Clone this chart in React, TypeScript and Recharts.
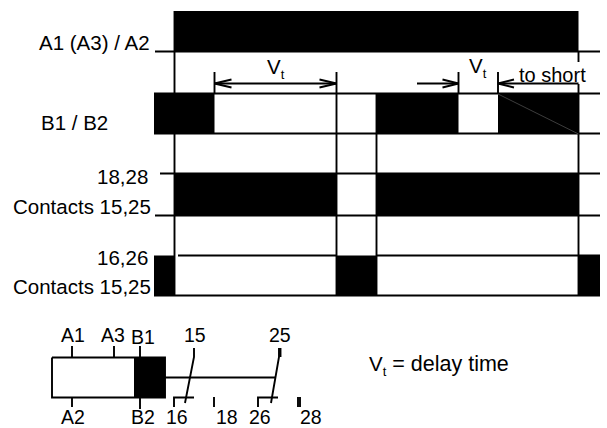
import { ComposedChart, Line, ReferenceArea, ReferenceDot, XAxis, YAxis } from "recharts";

const WIDTH = 607;
const HEIGHT = 428;
const FONT = "Liberation Sans, Arial, sans-serif";

// switching instants along the time axis
const t = { start: 174.5, vt1: 214.5, off1: 336.5, on2: 376.5, vt2: 458.5, vt3: 498, end: 578.5 };
const leftEnd = 154;
const rightEnd = 600;

// signal bands [top, bottom]
const supplyBand = [11, 51.5];
const controlBand = [93.5, 133.5];
const contact18Band = [173.5, 215.5];
const contact16Band = [255.5, 295.5];

// filled (high) periods [from, to, top, bottom]
const blocks = [
  [t.start, t.end, supplyBand[0], supplyBand[1]],
  [leftEnd, t.vt1, controlBand[0], controlBand[1]],
  [t.on2, t.vt2, controlBand[0], controlBand[1]],
  [t.vt3, t.end, controlBand[0], controlBand[1]],
  [t.start, t.off1, contact18Band[0], contact18Band[1]],
  [t.on2, t.end, contact18Band[0], contact18Band[1]],
  [leftEnd, t.start, contact16Band[0], contact16Band[1]],
  [t.off1, t.on2, contact16Band[0], contact16Band[1]],
  [t.end, rightEnd, contact16Band[0], contact16Band[1]],
  [134, 165, 357.5, 397.5],
];

// traces, each a list of [x, y]
const traces = [
  [[155, 51.5], [rightEnd, 51.5]],
  [[leftEnd, 93.5], [rightEnd, 93.5]],
  [[leftEnd, 133.5], [rightEnd, 133.5]],
  [[160, 173.5], [rightEnd, 173.5]],
  [[155, 215.5], [rightEnd, 215.5]],
  [[178, 255.5], [t.off1, 255.5]],
  [[t.on2, 255.5], [rightEnd, 255.5]],
  [[leftEnd, 295.5], [rightEnd, 295.5]],
  // time markers
  [[t.start, 11], [t.start, 295]],
  [[t.off1, 72], [t.off1, 295]],
  [[t.on2, 94], [t.on2, 295]],
  [[t.end, 52], [t.end, 62]],
  [[t.end, 84], [t.end, 295]],
  [[t.vt1, 72], [t.vt1, 94]],
  [[t.vt2, 72], [t.vt2, 94]],
  [[t.vt3, 72], [t.vt3, 94]],
  // delay time arrows
  [[t.vt1, 83.5], [t.off1, 83.5]],
  [[t.vt1 + 17, 79.5], [t.vt1, 83.5], [t.vt1 + 17, 87.5]],
  [[t.off1 - 17, 79.5], [t.off1, 83.5], [t.off1 - 17, 87.5]],
  [[417, 83.5], [t.vt2, 83.5]],
  [[t.vt2 - 16, 79.5], [t.vt2, 83.5], [t.vt2 - 16, 87.5]],
  [[t.vt3, 83.5], [t.end, 83.5]],
  [[t.vt3 + 16, 79.5], [t.vt3, 83.5], [t.vt3 + 16, 87.5]],
];

// wiring of the relay symbol
const symbolTraces = [
  [[52, 357.5], [165, 357.5], [165, 397.5], [52, 397.5], [52, 357.5]],
  [[72, 346], [72, 357.5]],
  [[114, 346], [114, 357.5]],
  [[140, 346], [140, 357.5]],
  [[72, 397.5], [72, 407]],
  [[140, 397.5], [140, 409]],
  [[165, 377.5], [276, 377.5]],
  [[194, 348], [194, 357], [185, 403]],
  [[279, 348], [279, 357], [271, 403]],
  [[280.5, 348], [280.5, 357]],
  [[174, 407], [174, 397.5], [194, 397.5]],
  [[214, 397], [214, 407]],
  [[258, 407], [258, 397.5], [278, 397.5]],
  [[298, 397], [298, 407]],
  [[300, 397], [300, 407]],
];

const shortLine = [[t.vt3, 94], [t.end, 134]];

// [text, x, baseline, font size, subscript, trailing text]
const labels = [
  ["A1 (A3) / A2", 39, 50, 20.5],
  ["B1 / B2", 41, 130, 20.5],
  ["18,28", 97, 184, 20.5],
  ["Contacts 15,25", 13, 214, 20.5],
  ["16,26", 97, 265, 20.5],
  ["Contacts 15,25", 13, 294, 20.5],
  ["V", 267, 74, 20.5, "t"],
  ["V", 469, 73, 20.5, "t"],
  ["to short", 519, 82, 20],
  ["V", 369, 371, 20.5, "t", " = delay time"],
  ["A1", 61, 342, 19.5],
  ["A3", 101, 342, 19.5],
  ["B1", 131, 344, 19.5],
  ["15", 184, 342, 19.5],
  ["25", 269, 342, 19.5],
  ["A2", 61, 424, 19.5],
  ["B2", 131, 424, 19.5],
  ["16", 166, 424, 19.5],
  ["18", 216, 424, 19.5],
  ["26", 249, 424, 19.5],
  ["28", 300, 424, 19.5],
];

const toPoints = (trace: number[][]) => trace.map(([x, y]) => ({ x, y }));

export default function App() {
  return (
    <div style={{ position: "absolute", left: 0, top: 0, width: WIDTH, height: HEIGHT, background: "#fff" }}>
      <ComposedChart width={WIDTH} height={HEIGHT} margin={{ top: 0, right: 0, bottom: 0, left: 0 }}>
        <XAxis type="number" dataKey="x" domain={[0, WIDTH]} hide allowDataOverflow />
        <YAxis type="number" dataKey="y" domain={[0, HEIGHT]} reversed hide allowDataOverflow />
        {blocks.map(([x1, x2, y1, y2], i) => (
          <ReferenceArea key={i} x1={x1} x2={x2} y1={y1} y2={y2} fill="#000" fillOpacity={1} stroke="none" ifOverflow="visible" />
        ))}
        {traces.concat(symbolTraces).map((trace, i) => (
          <Line
            key={i}
            data={toPoints(trace)}
            dataKey="y"
            type="linear"
            stroke="#000"
            strokeWidth={1.9}
            dot={false}
            activeDot={false}
            legendType="none"
            isAnimationActive={false}
          />
        ))}
        <Line
          data={toPoints(shortLine)}
          dataKey="y"
          type="linear"
          stroke="#666"
          strokeWidth={0.6}
          dot={false}
          activeDot={false}
          isAnimationActive={false}
        />
        {labels.map(([text, x, y, size, sub, rest], i) => (
          <ReferenceDot
            key={i}
            x={x as number}
            y={y as number}
            r={0}
            ifOverflow="visible"
            shape={(p: any) => (
              <text x={p.cx} y={p.cy} fontFamily={FONT} fontSize={size} fill="#000">
                {text}
                {sub ? (
                  <tspan dy={5} fontSize={13}>
                    {sub}
                  </tspan>
                ) : null}
                {rest ? (
                  <tspan dy={-5} fontSize={21.5}>
                    {rest}
                  </tspan>
                ) : null}
              </text>
            )}
          />
        ))}
      </ComposedChart>
    </div>
  );
}
